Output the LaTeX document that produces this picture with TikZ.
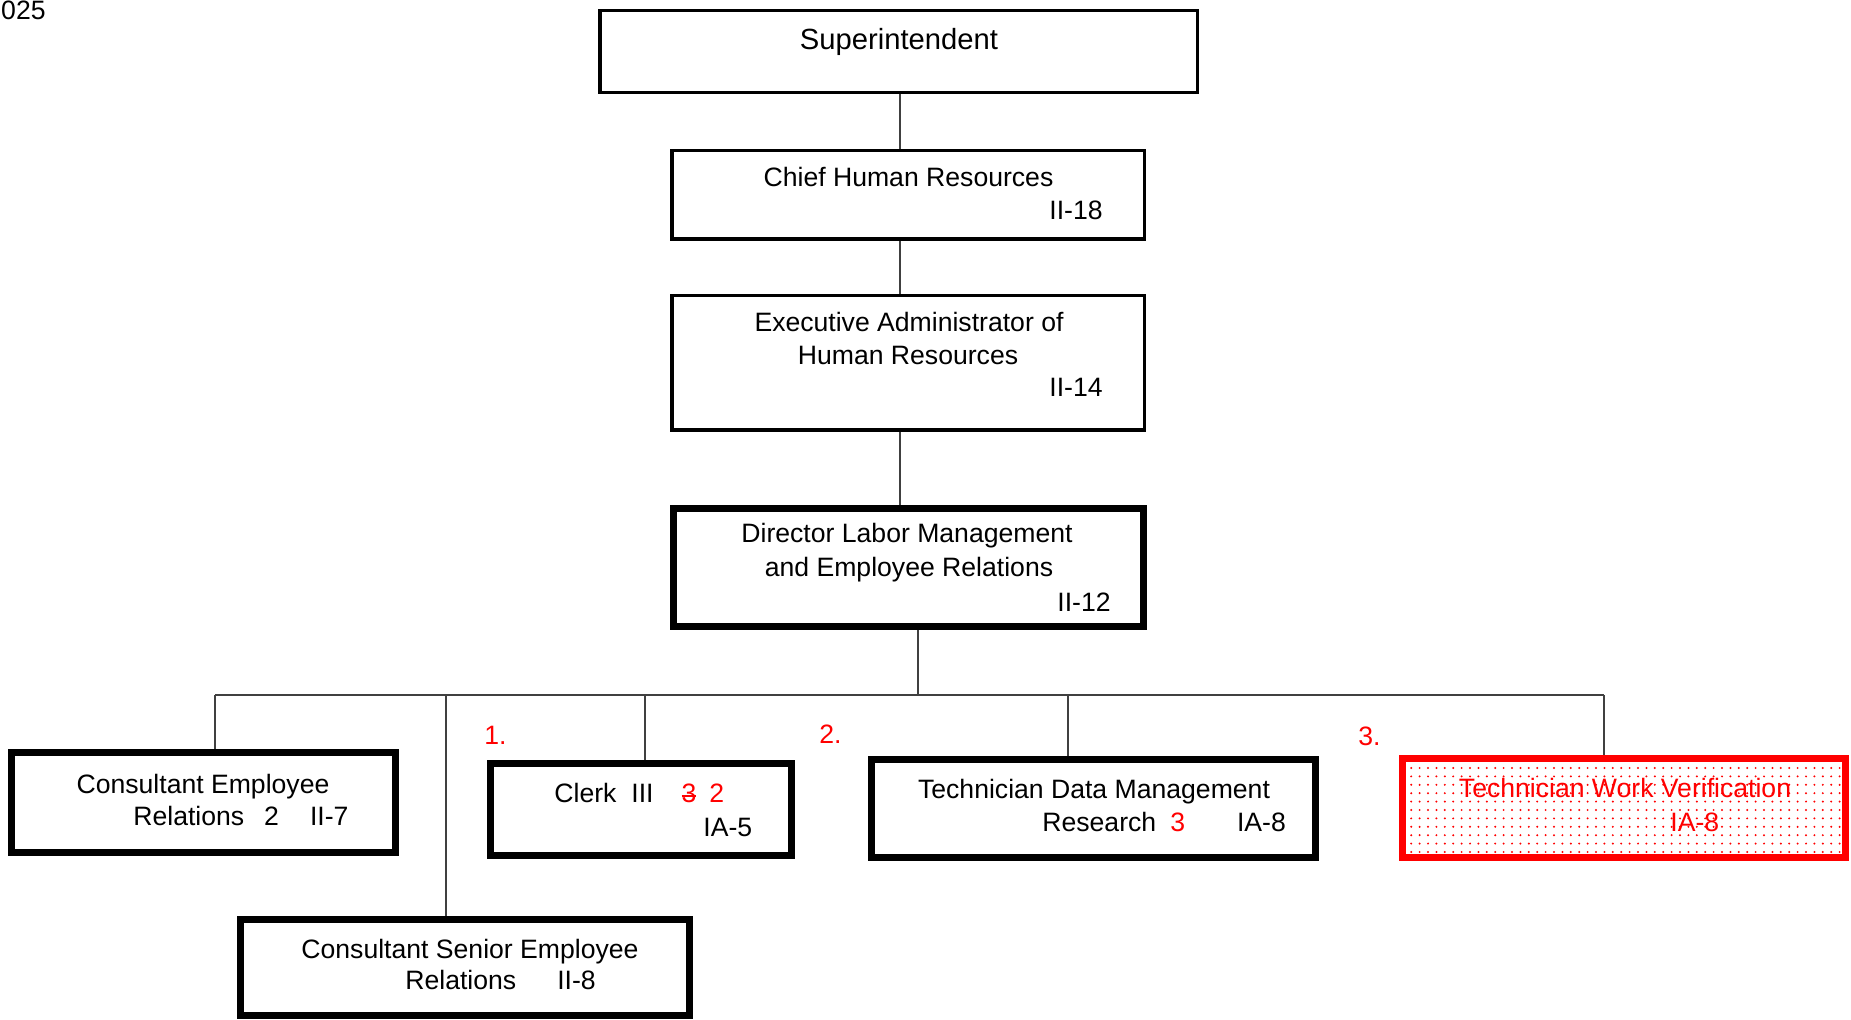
\documentclass[tikz,border=0pt]{standalone}
\usepackage{fontspec}
\setmainfont{Liberation Sans}
\usetikzlibrary{patterns.meta,backgrounds}
\newcommand{\struck}[1]{\makebox[0pt][l]{\rule[0.2em]{0.556em}{0.07em}}#1}
\tikzset{
  post/.style={draw,inner sep=0pt,line width=1.75pt},
  head/.style={post,line width=3.5pt},
  txt/.style={inner sep=0pt,anchor=base,font=\fontsize{13.3}{16}\selectfont},
  code/.style={txt,anchor=base west},
  note/.style={code,text=red},
  link/.style={draw=black!75,line width=0.75pt},
}
\begin{document}
\begin{tikzpicture}[x=0.5pt,y=-0.5pt]
\useasboundingbox (0,0) rectangle (1851,1020);

% boxes
\node[post,minimum width=298.75pt,minimum height=41pt] (super) at (898.5,51.5) {};
\node[post,minimum width=236.25pt,minimum height=44.25pt] (chief) at (908,195) {};
\node[post,minimum width=236.25pt,minimum height=67.25pt] (exec) at (908,363) {};
\node[head,minimum width=235pt,minimum height=59pt] (dir) at (908.5,567.5) {};
\node[head,minimum width=192pt,minimum height=50pt] (ce) at (203.5,802.5) {};
\node[head,minimum width=150.5pt,minimum height=46pt] (clerk) at (641,809.5) {};
\node[head,minimum width=222pt,minimum height=49pt] (tdm) at (1093.5,808.5) {};
\node[head,draw=red,pattern={Dots[distance=4.2pt,radius=0.55pt]},pattern color=red,
      minimum width=221.5pt,minimum height=49.5pt] (twv) at (1624,808) {};
\node[head,minimum width=224.5pt,minimum height=48pt] (cs) at (465,967.5) {};

% texts
\node[txt,font=\fontsize{14.6}{17}\selectfont] (superA) at (899,50) {Superintendent};
\node[txt] (chiefA) at (908.5,187) {Chief Human Resources};
\node[code] (chiefB) at (1049,220) {II-18};
\node[txt] (execA) at (909,332) {Executive Administrator of};
\node[txt] (execB) at (908,365) {Human Resources};
\node[code] (execC) at (1049,397) {II-14};
\node[txt] (dirA) at (907,543) {Director Labor Management};
\node[txt] (dirB) at (909,577) {and Employee Relations};
\node[code] (dirC) at (1057,612) {II-12};
\node[txt] (ceA) at (203,793) {Consultant Employee};
\node[code] (ceB) at (133,825) {Relations\hspace{10pt}2\hspace{15.5pt}II-7};
\node[code] (clerkA) at (554,802) {Clerk\hspace{7.5pt}III\hspace{14pt}\textcolor{red}{\struck{3}\hspace{6.5pt}2}};
\node[code] (clerkB) at (703,836) {IA-5};
\node[txt] (tdmA) at (1094,798) {Technician Data Management};
\node[code] (tdmB) at (1042,831) {Research\hspace{7pt}\textcolor{red}{3}\hspace{26pt}IA-8};
\node[txt,text=red] (twvA) at (1625,797) {Technician Work Verification};
\node[note] (twvB) at (1670,831) {IA-8};
\node[txt] (csA) at (470,958) {Consultant Senior Employee};
\node[code] (csB) at (405,989) {Relations\hspace{20.5pt}II-8};
\node[note] (n1) at (484,744) {1.};
\node[note] (n2) at (819,743) {2.};
\node[note] (n3) at (1358,745) {3.};
\node[txt,anchor=base east] (date) at (46,20) {025};

% connectors
\coordinate (trunk) at (900,0);
\coordinate (bus) at (918,695);
\coordinate (busL) at (215,695);
\coordinate (busR) at (1604,695);
\coordinate (dropcs) at (446,695);
\coordinate (dropcl) at (645,695);
\coordinate (droptd) at (1068,695);
\begin{scope}[on background layer]
\draw[link] (trunk |- super.south) -- (trunk |- chief.north);
\draw[link] (trunk |- chief.south) -- (trunk |- exec.north);
\draw[link] (trunk |- exec.south) -- (trunk |- dir.north);
\draw[link] (bus |- dir.south) -- (bus);
\draw[link] (busL) -- (busR);
\draw[link] (busL) -- (busL |- ce.north);
\draw[link] (dropcs) -- (dropcs |- cs.north);
\draw[link] (dropcl) -- (dropcl |- clerk.north);
\draw[link] (droptd) -- (droptd |- tdm.north);
\draw[link] (busR) -- (busR |- twv.north);
\end{scope}
\end{tikzpicture}
\end{document}
